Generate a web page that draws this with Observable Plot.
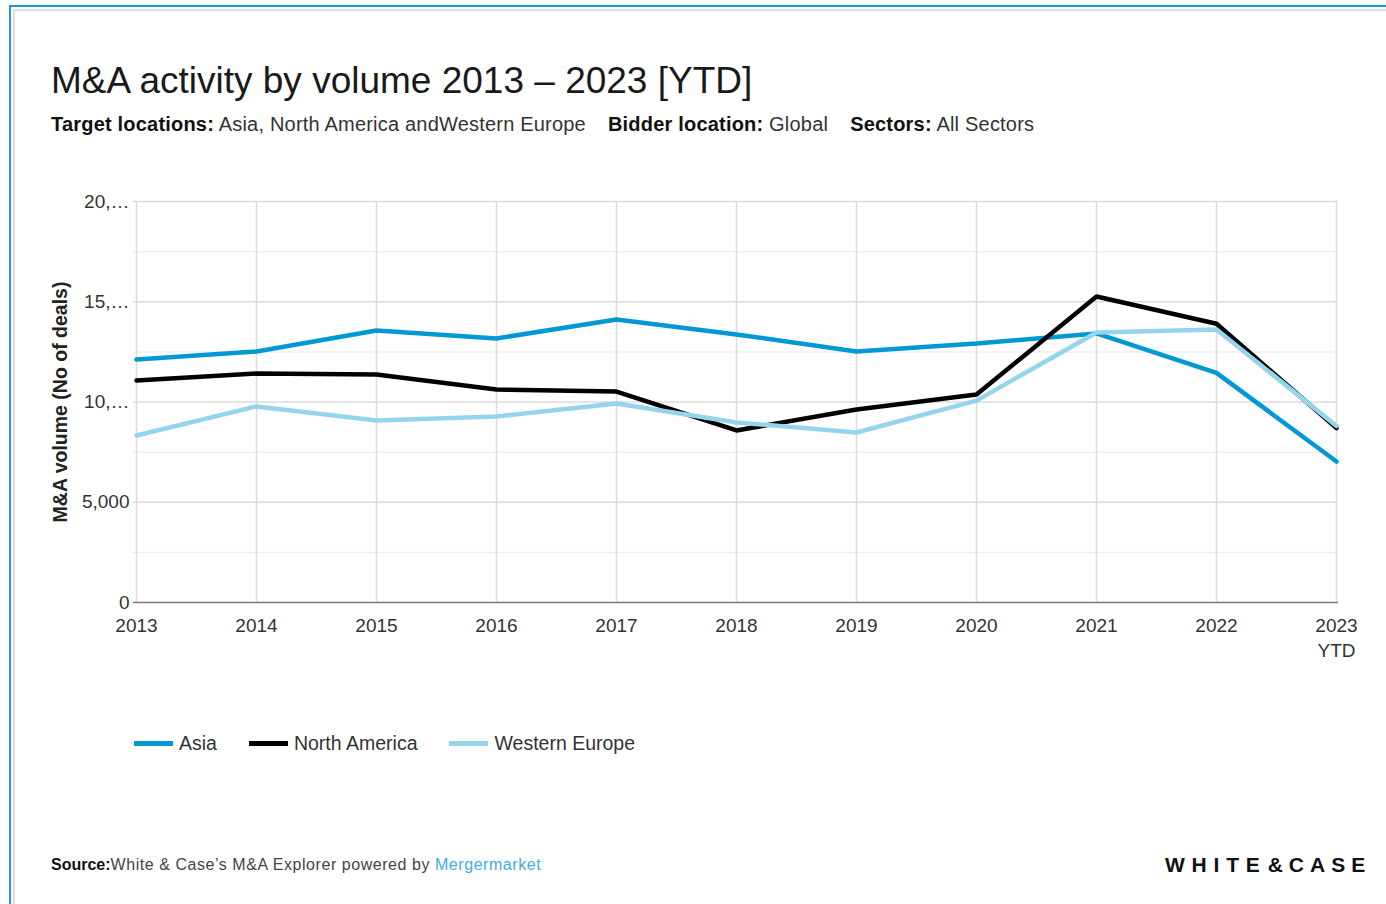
<!DOCTYPE html>
<html>
<head>
<meta charset="utf-8">
<script src="https://cdn.jsdelivr.net/npm/d3@7"></script>
<script src="https://cdn.jsdelivr.net/npm/@observablehq/plot@0.6"></script>
<style>
  html, body { margin: 0; padding: 0; background: #fff; }
  body { width: 1386px; height: 904px; position: relative; overflow: hidden; font-family: "Liberation Sans", Arial, sans-serif; color: #222; }
  .frame-blue { position: absolute; left: 9px; top: 5px; right: -10px; bottom: -10px; border-top: 2px solid #1a9bd7; border-left: 2px solid #1a9bd7; }
  .frame-gray { position: absolute; left: 13px; top: 9px; right: -10px; bottom: -10px; border-top: 2px solid #dedede; border-left: 2px solid #dedede; }
  .abs { position: absolute; white-space: nowrap; }
  #title { left: 51px; top: 62px; font-size: 37px; line-height: 37px; color: #1a1a1a; }
  #subtitle { left: 51px; top: 114px; font-size: 20px; line-height: 20px; letter-spacing: 0.2px; color: #333; }
  #subtitle b { color: #111; }
  #subtitle span { margin-right: 22px; }
  #chart { left: 0; top: 180px; }
  #legend { left: 134px; top: 734px; font-size: 19.5px; line-height: 19.5px; color: #333; display: flex; }
  .item { display: flex; align-items: center; margin-right: 32px; }
  .sw { width: 39px; height: 5px; margin-right: 6px; }
  #source { left: 51px; top: 857px; font-size: 16px; line-height: 16px; letter-spacing: 0.55px; color: #444; }
  #source b { color: #111; letter-spacing: 0; }
  #source .mm { color: #3ab0e2; }
  #logo { left: 1165px; top: 854px; font-size: 21px; line-height: 21px; font-weight: bold; color: #111; }
  #logo .w { letter-spacing: 6.8px; margin-right: 1px; }
  #logo .c { letter-spacing: 6px; }
  g[aria-label="y-axis label"] text { font-weight: bold; font-size: 19.5px; fill: #222; }
</style>
</head>
<body>
<div class="frame-blue"></div>
<div class="frame-gray"></div>
<div id="title" class="abs">M&amp;A activity by volume 2013 – 2023 [YTD]</div>
<div id="subtitle" class="abs"><span><b>Target locations:</b> Asia, North America andWestern Europe</span><span><b>Bidder location:</b> Global</span><span><b>Sectors:</b> All Sectors</span></div>
<div id="chart" class="abs"></div>
<div id="legend" class="abs"></div>
<div id="source" class="abs"><b>Source:</b>White &amp; Case’s M&amp;A Explorer powered by <span class="mm">Mergermarket</span></div>
<div id="logo" class="abs"><span class="w">WHITE</span><span class="c">&amp;CASE</span></div>
<script>
const years = ["2013","2014","2015","2016","2017","2018","2019","2020","2021","2022","2023\nYTD"];
const asia          = [12120, 12520, 13570, 13170, 14110, 13370, 12520, 12920, 13420, 11450, 7030];
const northAmerica  = [11070, 11420, 11370, 10620, 10520,  8580,  9630, 10370, 15260, 13900, 8700];
const westernEurope = [ 8330,  9780,  9080,  9280,  9930,  8980,  8480, 10070, 13470, 13620, 8800];
const seriesNames = ["Asia", "North America", "Western Europe"];
const seriesColors = ["#0099d3", "#000000", "#94d4ec"];
const yTicks = [0, 5000, 10000, 15000, 20000];
const yTickLabels = ["0", "5,000", "10,…", "15,…", "20,…"];
const yMinorTicks = [2500, 7500, 12500, 17500];

const seriesValues = [asia, northAmerica, westernEurope];
const rows = [];
seriesNames.forEach((name, s) => {
  years.forEach((yr, i) => rows.push({series: name, year: yr, value: seriesValues[s][i]}));
});

const chart = Plot.plot({
  width: 1386,
  height: 500,
  marginLeft: 133,
  marginRight: 48,
  marginTop: 21,
  marginBottom: 78,
  style: {fontFamily: "Liberation Sans, Arial, sans-serif", fontSize: "19px", color: "#333", background: "transparent"},
  x: {type: "point", domain: years, padding: 0},
  y: {domain: [0, 20000]},
  color: {domain: seriesNames, range: seriesColors},
  marks: [
    Plot.ruleY(yMinorTicks, {stroke: "#efefef", strokeWidth: 1.5}),
    Plot.ruleY(yTicks.slice(1), {stroke: "#dcdcdc", strokeWidth: 1.5}),
    Plot.ruleX(years, {x: d => d, stroke: "#dcdcdc", strokeWidth: 1.5}),
    Plot.ruleY([0], {stroke: "#777", strokeWidth: 1.5}),
    Plot.axisY({ticks: yTicks, tickSize: 0, tickPadding: 4, tickFormat: (d) => yTickLabels[yTicks.indexOf(d)],
      label: "M&A volume (No of deals)", labelAnchor: "center", labelArrow: "none", labelOffset: 80}),
    Plot.axisX({tickSize: 0, tickPadding: 12, lineHeight: 1.3, label: null}),
    Plot.lineY(rows, {x: "year", y: "value", stroke: "series", z: "series", strokeWidth: 4.5, strokeLinejoin: "miter"})
  ]
});
document.getElementById("chart").appendChild(chart);

const legend = document.getElementById("legend");
seriesNames.forEach((name, i) => {
  const it = document.createElement("div");
  it.className = "item";
  it.innerHTML = `<div class="sw" style="background:${seriesColors[i]}"></div><div>${name}</div>`;
  legend.appendChild(it);
});
</script>
</body>
</html>
